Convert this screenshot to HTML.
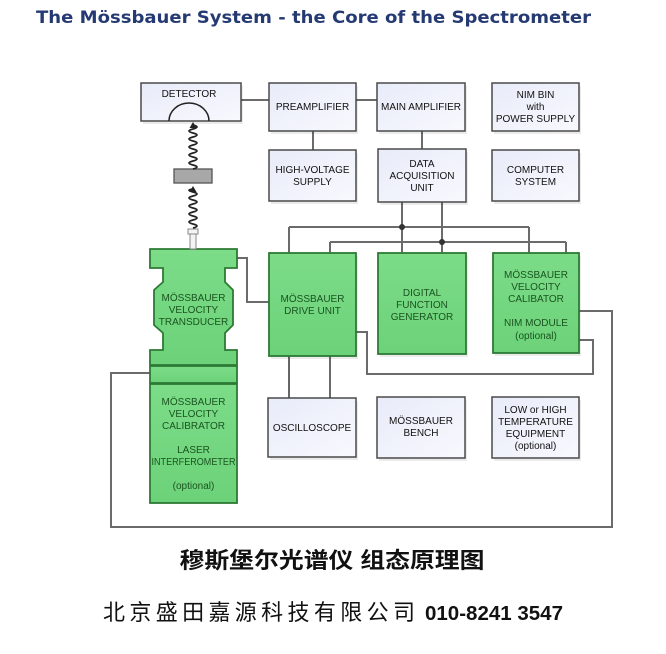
<!DOCTYPE html>
<html><head><meta charset="utf-8"><style>
html,body{margin:0;padding:0;background:#fff;}
svg{display:block;}
.t{font-family:"Liberation Sans",Arial,sans-serif;font-size:10px;fill:#111;text-anchor:middle;}
.g{font-family:"Liberation Sans",Arial,sans-serif;font-size:10px;fill:#1a5420;text-anchor:middle;}
.ln{stroke:#6b6b6b;stroke-width:2;fill:none;}
.wb{fill:url(#wg);stroke:#4a4a4a;stroke-width:1.5;}
.gb{fill:url(#gg);stroke:#2d7a35;stroke-width:1.8;}
.sh{fill:#000;opacity:0.08;}
</style></head><body>
<svg width="666" height="654" viewBox="0 0 666 654" xmlns="http://www.w3.org/2000/svg">
<defs>
<linearGradient id="wg" x1="0" y1="0" x2="1" y2="1"><stop offset="0" stop-color="#e8ebf9"/><stop offset="1" stop-color="#f8f9fe"/></linearGradient>
<linearGradient id="gg" x1="0" y1="0" x2="0" y2="1"><stop offset="0" stop-color="#7cdc88"/><stop offset="1" stop-color="#6cd279"/></linearGradient>
</defs>
<rect width="666" height="654" fill="#fff"/>
<text x="36" y="23" font-family="DejaVu Sans,Verdana,sans-serif" font-weight="bold" font-size="17" fill="#253a72" textLength="555" lengthAdjust="spacingAndGlyphs">The Mössbauer System -  the Core of the Spectrometer</text>

<!-- connector lines -->
<path class="ln" d="M241 100 H269 M356 100 H377 M313 131 V150 M422 131 V149"/>
<path class="ln" d="M402 201 V253 M442 201 V253 M289 227 H529 M289 227 V253 M529 227 V253 M330 242 H566 M330 242 V253 M566 242 V253"/>
<circle cx="402" cy="227" r="3" fill="#333"/>
<circle cx="442" cy="242" r="3" fill="#333"/>
<path class="ln" d="M237 258 H247 V302 H269"/>
<path class="ln" d="M356 332 H367 V374 H593 V340 H579"/>
<path class="ln" d="M579 311 H612 V527 H111 V373 H150"/>
<path d="M289 356 V398" stroke="#333" stroke-width="1.5"/>
<path class="ln" d="M330 356 V398"/>

<!-- shadows -->
<rect class="sh" x="143" y="86" width="100" height="38"/>
<rect class="sh" x="271" y="86" width="87" height="48"/>
<rect class="sh" x="379" y="86" width="88" height="48"/>
<rect class="sh" x="494" y="86" width="87" height="48"/>
<rect class="sh" x="271" y="153" width="87" height="51"/>
<rect class="sh" x="380" y="152" width="88" height="53"/>
<rect class="sh" x="494" y="153" width="87" height="51"/>
<rect class="sh" x="270" y="401" width="88" height="59"/>
<rect class="sh" x="379" y="400" width="88" height="61"/>
<rect class="sh" x="494" y="400" width="87" height="61"/>
<rect class="sh" x="271" y="256" width="87" height="103"/>
<rect class="sh" x="380" y="256" width="88" height="101"/>
<rect class="sh" x="495" y="256" width="86" height="100"/>

<!-- white boxes -->
<rect class="wb" x="141" y="83" width="100" height="38"/>
<path d="M169 121 A20 18 0 0 1 209 121" fill="none" stroke="#222" stroke-width="1.5"/>
<text class="t" x="189" y="97">DETECTOR</text>
<rect class="wb" x="269" y="83" width="87" height="48"/>
<text class="t" x="312.5" y="110">PREAMPLIFIER</text>
<rect class="wb" x="377" y="83" width="88" height="48"/>
<text class="t" x="421" y="110">MAIN AMPLIFIER</text>
<rect class="wb" x="492" y="83" width="87" height="48"/>
<text class="t" x="535.5" y="98">NIM BIN</text>
<text class="t" x="535.5" y="110">with</text>
<text class="t" x="535.5" y="122">POWER SUPPLY</text>
<rect class="wb" x="269" y="150" width="87" height="51"/>
<text class="t" x="312.5" y="173">HIGH-VOLTAGE</text>
<text class="t" x="312.5" y="185">SUPPLY</text>
<rect class="wb" x="378" y="149" width="88" height="53"/>
<text class="t" x="422" y="167">DATA</text>
<text class="t" x="422" y="179">ACQUISITION</text>
<text class="t" x="422" y="191">UNIT</text>
<rect class="wb" x="492" y="150" width="87" height="51"/>
<text class="t" x="535.5" y="173">COMPUTER</text>
<text class="t" x="535.5" y="185">SYSTEM</text>
<rect class="wb" x="268" y="398" width="88" height="59"/>
<text class="t" x="312" y="431">OSCILLOSCOPE</text>
<rect class="wb" x="377" y="397" width="88" height="61"/>
<text class="t" x="421" y="424">MÖSSBAUER</text>
<text class="t" x="421" y="436">BENCH</text>
<rect class="wb" x="492" y="397" width="87" height="61"/>
<text class="t" x="535.5" y="413">LOW or HIGH</text>
<text class="t" x="535.5" y="425">TEMPERATURE</text>
<text class="t" x="535.5" y="437">EQUIPMENT</text>
<text class="t" x="535.5" y="449">(optional)</text>

<!-- green boxes -->
<rect class="gb" x="269" y="253" width="87" height="103"/>
<text class="g" x="312.5" y="302">MÖSSBAUER</text>
<text class="g" x="312.5" y="314">DRIVE UNIT</text>
<rect class="gb" x="378" y="253" width="88" height="101"/>
<text class="g" x="422" y="296">DIGITAL</text>
<text class="g" x="422" y="308">FUNCTION</text>
<text class="g" x="422" y="320">GENERATOR</text>
<rect class="gb" x="493" y="253" width="86" height="100"/>
<text class="g" x="536" y="278">MÖSSBAUER</text>
<text class="g" x="536" y="290">VELOCITY</text>
<text class="g" x="536" y="302">CALIBATOR</text>
<text class="g" x="536" y="326">NIM MODULE</text>
<text class="g" x="536" y="339">(optional)</text>

<!-- transducer column -->
<polygon class="gb" points="150,249 237,249 237,268 225,268 225,282 233,290 233,325 225,333 225,350 237,350 237,365 150,365 150,350 163,350 163,333 154,325 154,290 163,282 163,268 150,268"/>
<text class="g" x="193.5" y="301">MÖSSBAUER</text>
<text class="g" x="193.5" y="313">VELOCITY</text>
<text class="g" x="193.5" y="325">TRANSDUCER</text>
<rect class="gb" x="150" y="366" width="87" height="17"/>
<rect class="gb" x="150" y="384" width="87" height="119"/>
<text class="g" x="193.5" y="405">MÖSSBAUER</text>
<text class="g" x="193.5" y="417">VELOCITY</text>
<text class="g" x="193.5" y="429">CALIBRATOR</text>
<text class="g" x="193.5" y="453">LASER</text>
<text class="g" x="193.5" y="465" textLength="84" lengthAdjust="spacingAndGlyphs">INTERFEROMETER</text>
<text class="g" x="193.5" y="489">(optional)</text>

<!-- source, waves, absorber -->
<rect x="188" y="229" width="10" height="5" fill="#f4f4f4" stroke="#888" stroke-width="1"/>
<rect x="190" y="234" width="6" height="15" fill="#f4f4f4" stroke="#888" stroke-width="1"/>
<path d="M193 228 q8 -2 0 -4 q-8 -2 0 -4 q8 -2 0 -4 q-8 -2 0 -4 q8 -2 0 -4 q-8 -2 0 -4 q8 -2 0 -4 q-8 -2 0 -4 q8 -2 0 -4 q-8 -2 0 -3" fill="none" stroke="#222" stroke-width="1.7"/>
<polygon points="193,186 189.5,192 196.5,192" fill="#222"/>
<rect x="174" y="169" width="38" height="14" fill="#a8a8a8" stroke="#555" stroke-width="1.3"/>
<path d="M193 169 q8 -2 0 -4 q-8 -2 0 -4 q8 -2 0 -4 q-8 -2 0 -4 q8 -2 0 -4 q-8 -2 0 -4 q8 -2 0 -4 q-8 -2 0 -4 q8 -2 0 -4 q-8 -2 0 -4 q8 -2 0 -4" fill="none" stroke="#222" stroke-width="1.7"/>
<polygon points="193,122 189.5,128 196.5,128" fill="#222"/>

<!-- Chinese captions -->
<text x="332" y="568" text-anchor="middle" font-family="Liberation Sans,Noto Sans CJK SC,sans-serif" font-weight="bold" font-size="22" fill="#111" textLength="305" lengthAdjust="spacingAndGlyphs">穆斯堡尔光谱仪 组态原理图</text>
<text x="103" y="620" font-family="Liberation Sans,Noto Sans CJK SC,sans-serif" font-size="22" fill="#111" textLength="312" lengthAdjust="spacing">北京盛田嘉源科技有限公司</text>
<text x="425" y="620" font-family="Liberation Sans,Arial,sans-serif" font-weight="bold" font-size="20" fill="#111" textLength="138" lengthAdjust="spacingAndGlyphs">010-8241 3547</text>
</svg>
</body></html>
